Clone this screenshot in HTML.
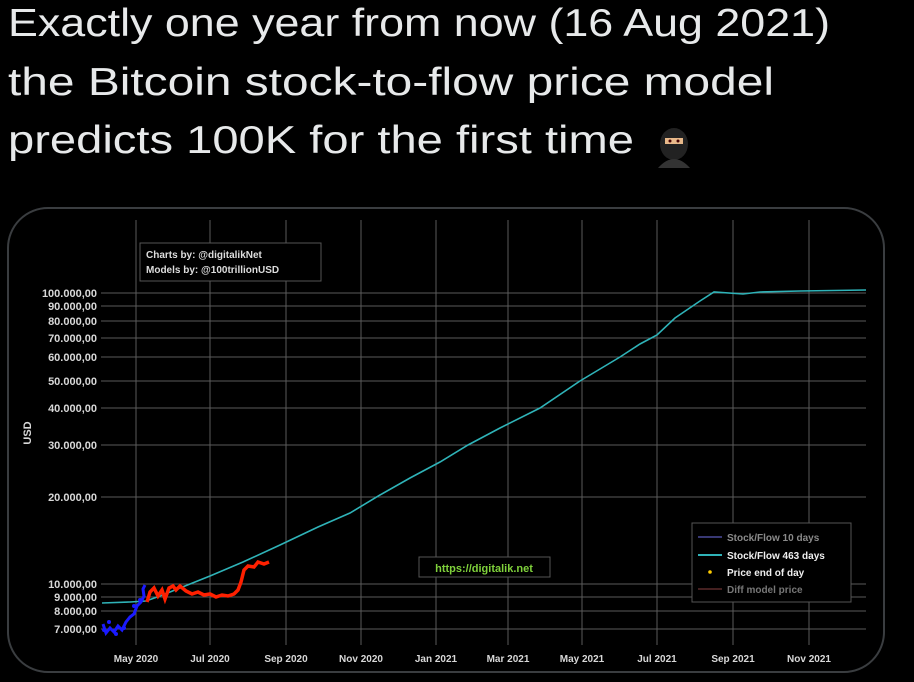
<!DOCTYPE html>
<html><head><style>
html,body{margin:0;padding:0;background:#000;width:914px;height:682px;overflow:hidden}
</style></head><body>
<svg width="914" height="682" viewBox="0 0 914 682" xmlns="http://www.w3.org/2000/svg" font-family="Liberation Sans, DejaVu Sans, sans-serif">
<rect width="914" height="682" fill="#000"/>
<g fill="#e7e9ea" font-size="39">
<text x="8" y="36" textLength="822" lengthAdjust="spacingAndGlyphs">Exactly one year from now (16 Aug 2021)</text>
<text x="8" y="95" textLength="766" lengthAdjust="spacingAndGlyphs">the Bitcoin stock-to-flow price model</text>
<text x="8" y="153" textLength="626" lengthAdjust="spacingAndGlyphs">predicts 100K for the first time</text>
</g>
<!-- ninja -->
<g>
<ellipse cx="674" cy="144" rx="14" ry="16" fill="#222"/>
<rect x="665" y="138" width="18" height="6" fill="#e8b98a"/>
<circle cx="670" cy="141" r="1.5" fill="#400"/><circle cx="678" cy="141" r="1.5" fill="#400"/>
<path d="M658 168 Q674 150 690 168 Z" fill="#333"/>
</g>
<!-- frame -->
<rect x="8" y="208" width="876" height="464" rx="40" fill="#000" stroke="#3a3d40" stroke-width="2"/>
<!-- grid -->
<g stroke="#5a5a5a" stroke-width="1">
<line x1="136" y1="220" x2="136" y2="645"/><line x1="210" y1="220" x2="210" y2="645"/><line x1="286" y1="220" x2="286" y2="645"/><line x1="361" y1="220" x2="361" y2="645"/><line x1="436" y1="220" x2="436" y2="645"/><line x1="508" y1="220" x2="508" y2="645"/><line x1="582" y1="220" x2="582" y2="645"/><line x1="657" y1="220" x2="657" y2="645"/><line x1="733" y1="220" x2="733" y2="645"/><line x1="809" y1="220" x2="809" y2="645"/>
<line x1="101" y1="293" x2="866" y2="293"/><line x1="101" y1="306" x2="866" y2="306"/><line x1="101" y1="321" x2="866" y2="321"/><line x1="101" y1="338" x2="866" y2="338"/><line x1="101" y1="357" x2="866" y2="357"/><line x1="101" y1="381" x2="866" y2="381"/><line x1="101" y1="408" x2="866" y2="408"/><line x1="101" y1="445" x2="866" y2="445"/><line x1="101" y1="497" x2="866" y2="497"/><line x1="101" y1="584" x2="866" y2="584"/><line x1="101" y1="597" x2="866" y2="597"/><line x1="101" y1="611" x2="866" y2="611"/><line x1="101" y1="629" x2="866" y2="629"/>
</g>
<g fill="#d8d8d8" font-size="11" font-weight="bold" text-anchor="end">
<text x="97" y="297">100.000,00</text><text x="97" y="310">90.000,00</text><text x="97" y="325">80.000,00</text><text x="97" y="342">70.000,00</text><text x="97" y="361">60.000,00</text><text x="97" y="385">50.000,00</text><text x="97" y="412">40.000,00</text><text x="97" y="449">30.000,00</text><text x="97" y="501">20.000,00</text><text x="97" y="588">10.000,00</text><text x="97" y="601">9.000,00</text><text x="97" y="615">8.000,00</text><text x="97" y="633">7.000,00</text>
</g>
<text x="31" y="433" fill="#d8d8d8" font-size="11" font-weight="bold" transform="rotate(-90 31 433)" text-anchor="middle">USD</text>
<g fill="#d8d8d8" font-size="10" font-weight="bold" text-anchor="middle">
<text x="136" y="662">May 2020</text><text x="210" y="662">Jul 2020</text><text x="286" y="662">Sep 2020</text><text x="361" y="662">Nov 2020</text><text x="436" y="662">Jan 2021</text><text x="508" y="662">Mar 2021</text><text x="582" y="662">May 2021</text><text x="657" y="662">Jul 2021</text><text x="733" y="662">Sep 2021</text><text x="809" y="662">Nov 2021</text>
</g>
<!-- model line -->
<polyline fill="none" stroke="#2fb3b8" stroke-width="1.6" points="102,603 130,602 146,601 160,596 175,590 190,584 210,576 243,562 280,545 318,527 350,513 380,495 410,478 440,462 468,445 500,428 540,408 580,381 620,357 640,344 657,335 675,318 700,301 714,292 743,294 760,292 800,291 866,290"/>
<!-- blue price -->
<g fill="#1a1aff">
<path d="M103,624 L106,633 L110,628 L114,632 L118,626 L122,630 L126,622 L130,617 L134,614 L137,606 L141,602 L144,596 L143,589 L145,585" stroke="#1a1aff" stroke-width="3" fill="none"/>
<circle cx="104" cy="630" r="2"/><circle cx="109" cy="622" r="2"/><circle cx="116" cy="634" r="2"/><circle cx="124" cy="628" r="2"/><circle cx="134" cy="606" r="2"/><circle cx="140" cy="600" r="2"/>
</g>
<!-- red price -->
<path d="M147,602 L150,592 L154,588 L158,596 L162,590 L165,599 L169,588 L173,586 L176,590 L180,586 L186,591 L192,594 L198,592 L204,595 L210,594 L216,597 L222,595 L228,596 L234,594 L238,590 L241,582 L244,570 L248,566 L254,567 L258,562 L264,564 L269,562" stroke="#ff2000" stroke-width="3.5" fill="none"/>
<!-- credits box -->
<rect x="140" y="243" width="181" height="38" fill="#000" stroke="#555"/>
<text x="146" y="258" fill="#ddd" font-size="10" font-weight="bold">Charts by: @digitalikNet</text>
<text x="146" y="273" fill="#ddd" font-size="10" font-weight="bold">Models by: @100trillionUSD</text>
<!-- url box -->
<rect x="419" y="557" width="131" height="20" fill="#000" stroke="#555"/>
<text x="484" y="572" fill="#7fd13b" font-size="11" font-weight="bold" text-anchor="middle">https://digitalik.net</text>
<!-- legend -->
<rect x="692" y="523" width="159" height="79" fill="#000" stroke="#555"/>
<line x1="698" y1="537" x2="722" y2="537" stroke="#4a4a9a" stroke-width="1.5"/>
<line x1="698" y1="555" x2="722" y2="555" stroke="#2fb3b8" stroke-width="2"/>
<circle cx="710" cy="572" r="1.8" fill="#ffcc00"/>
<line x1="698" y1="589" x2="722" y2="589" stroke="#5a2a2a" stroke-width="1.5"/>
<g font-size="10" font-weight="bold">
<text x="727" y="541" fill="#8a8a8a">Stock/Flow 10 days</text>
<text x="727" y="559" fill="#eee">Stock/Flow 463 days</text>
<text x="727" y="576" fill="#eee">Price end of day</text>
<text x="727" y="593" fill="#777">Diff model price</text>
</g>
</svg>
</body></html>
